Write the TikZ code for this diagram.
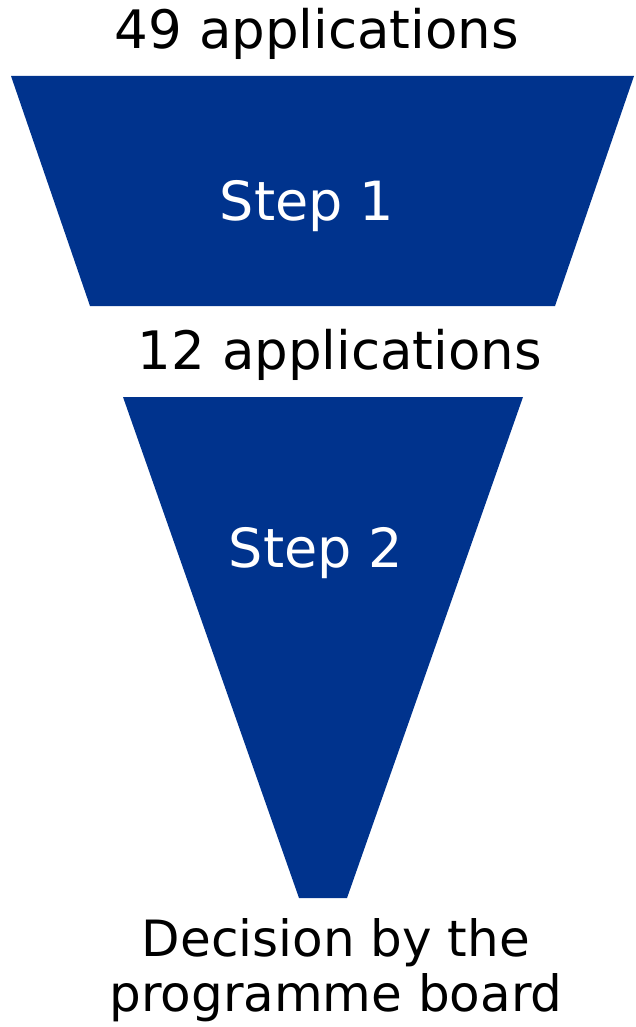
\documentclass[tikz,border=0pt]{standalone}
\usepackage{fontspec}
\setmainfont{DejaVu Sans}
\usepackage{xcolor}
\usepackage{tikz}
\usetikzlibrary{positioning}

\definecolor{funnelblue}{RGB}{0,51,141}

\begin{document}
\begin{tikzpicture}[x=1pt,y=-1pt]

		\tikzset{funnel/.style={fill=funnelblue,draw=none},
			count/.style={text=black,inner sep=0pt,anchor=base,font=\fontsize{53}{58}\selectfont},
			steplabel/.style={text=white,inner sep=0pt,anchor=base,font=\fontsize{54}{58}\selectfont}}

		\useasboundingbox (0,0) rectangle (635,1027);

		% the two stages
		\fill[funnel] (11,76) -- (634,76) -- (555,306) -- (90,306) -- cycle;
		\fill[funnel] (123,397) -- (523,397) -- (347,898) -- (299,898) -- cycle;

		\node[count]     (N1) at (317,49)  {49 applications};
		\node[steplabel] (S1) at (307,220) {Step 1};
		\node[count]     (N2) at (340,369) {12 applications};
		\node[steplabel] (S2) at (316,567) {Step 2};
		\node[count,align=center,font=\fontsize{50}{55}\selectfont] (D) at (336,1011) {Decision by the\\programme board};

	\end{tikzpicture}
\end{document}
